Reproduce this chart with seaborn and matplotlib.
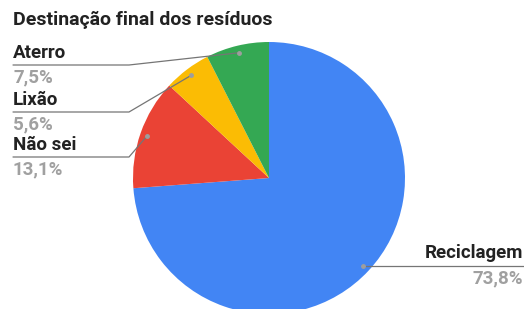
import numpy as np
import seaborn as sns
import matplotlib.pyplot as plt

sns.set_style("white")
plt.rcParams['font.family'] = ['Roboto', 'DejaVu Sans']

title = "Destinação final dos resíduos"
labels = ["Reciclagem", "Não sei", "Lixão", "Aterro"]
values = [73.8, 13.1, 5.6, 7.5]
pct_labels = ["73,8%", "13,1%", "5,6%", "7,5%"]
colors = ["#4285F4", "#EA4335", "#FBBC04", "#34A853"]

W, H = 524, 309
fig = plt.figure(figsize=(W / 100, H / 100), dpi=100)
ax = fig.add_axes([0, 0, 1, 1])

cx, cy, r = 269, H - 178, 136
wedges, _ = ax.pie(values, colors=colors, startangle=90, counterclock=False,
                   center=(cx, cy), radius=r, wedgeprops=dict(linewidth=0))
ax.set_xlim(0, W)
ax.set_ylim(0, H)
ax.set_aspect("equal")
ax.axis("off")

# label line height (pixels from top)
line_y = {"Reciclagem": 266, "Não sei": 157, "Lixão": 112, "Aterro": 65}
line_col = "#757575"
fs = 13.5

for w, name, pct in zip(wedges, labels, pct_labels):
    mid = np.deg2rad((w.theta1 + w.theta2) / 2)
    px = cx + 0.947 * r * np.cos(mid)
    py = cy + 0.947 * r * np.sin(mid)
    ly = H - line_y[name]
    ax.plot(px, py, "o", ms=2.5, color="#9e9e9e", zorder=5)
    if px > cx:
        ax.plot([px, W], [py, py], color=line_col, lw=0.9)
        ax.text(W - 1, ly + 13, name, ha="right", va="center",
                fontsize=fs, fontweight="bold", color="#222222")
        ax.text(W - 1, ly - 12, pct, ha="right", va="center",
                fontsize=fs, fontweight="bold", color="#a0a0a0")
    else:
        ax.plot([px, 129, 13], [py, ly, ly], color=line_col, lw=0.9)
        ax.text(13, ly + 12, name, ha="left", va="center",
                fontsize=fs, fontweight="bold", color="#222222")
        ax.text(13, ly - 12, pct, ha="left", va="center",
                fontsize=fs, fontweight="bold", color="#a0a0a0")

ax.text(13, H - 20, title, ha="left", va="center", fontsize=14,
        fontweight="bold", color="#222222")

fig.savefig("out.png", dpi=100)
